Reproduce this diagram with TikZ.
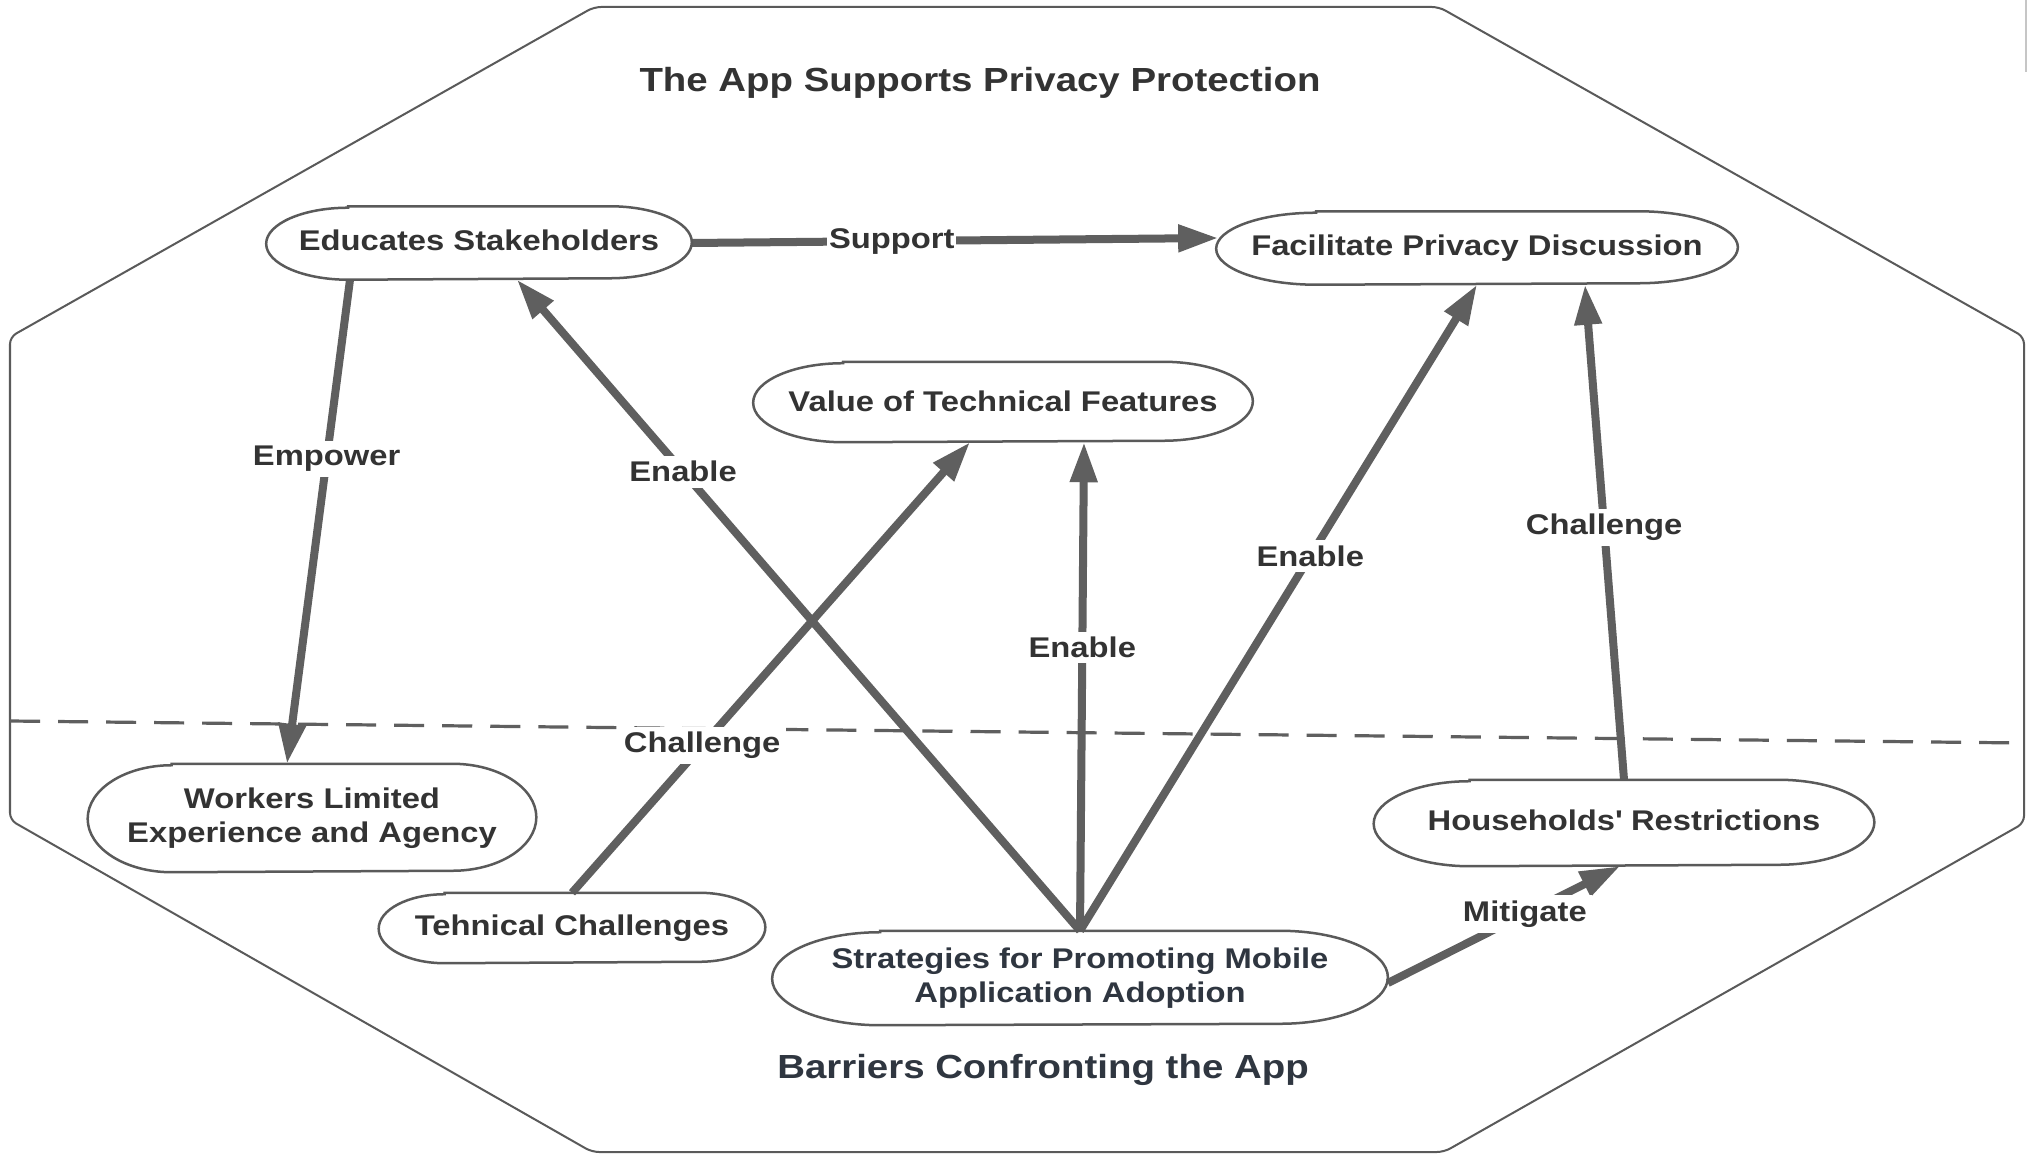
\documentclass[tikz,border=0pt]{standalone}
\usepackage{fontspec}
\setmainfont{Liberation Sans}[FakeStretch=1.15]
\usetikzlibrary{arrows.meta,calc}
\definecolor{edgec}{HTML}{5F5F5F}
\definecolor{outl}{HTML}{5A5A5A}
\definecolor{txt}{HTML}{333333}
\definecolor{txtb}{HTML}{2F3640}
\newcommand\pillborder[3]{%
  \draw[pillline] ($(#1.north west)+(#2,0)$) -- ($(#1.north east)+(-#2,0)$)
    arc[start angle=90,end angle=-90,x radius=#2,y radius=#3]
    -- ($(#1.south west)+(#2,0)$)
    arc[start angle=270,end angle=90,x radius=#2,y radius=#3] -- cycle;}
\begin{document}
\begin{tikzpicture}[x=0.01cm,y=0.01cm,
  pill/.style={rectangle, draw=none, inner sep=0pt, text=txt,
    font=\bfseries\fontsize{8.1}{9.6}\selectfont, align=center},
  pillline/.style={draw=outl, line width=0.025cm},
  conn/.style={draw=edgec, line width=0.08cm, -{Triangle[length=0.4cm,width=0.26cm]}},
  lbl/.style={fill=white, text=txt, font=\bfseries\fontsize{8.1}{9.6}\selectfont, inner sep=1.5pt},
  ttl/.style={font=\bfseries\fontsize{9.5}{11}\selectfont}]
\useasboundingbox (0,0) rectangle (2028,1154);
\fill[white] (0,0) rectangle (2028,1154);

% outer octagon
\draw[draw=outl, line width=0.02cm, rounded corners=2pt]
  (594,1147) -- (1439,1147) -- (2024,817) -- (2024,331) -- (1444,2)
  -- (592,2) -- (10,334) -- (10,817) -- cycle;
% edge artifact
\draw[draw=gray!45, line width=0.015cm] (2026,1154) -- (2026,1082);

% dashed divider
\draw[draw=edgec, line width=0.032cm, dash pattern=on 0.3cm off 0.18cm] (10,433) -- (2024,411);

% titles
\node[ttl, text=txt] (top) at (980,1071) {The App Supports Privacy Protection};
\node[ttl, text=txtb] (bot) at (1043,84) {Barriers Confronting the App};

% nodes
\node[pill, minimum width=4.24cm, minimum height=0.72cm] (E) at (479,911) {\raisebox{0.05cm}{Educates Stakeholders}};
\node[pill, minimum width=5.20cm, minimum height=0.72cm] (F) at (1477,906) {\raisebox{0.01cm}{Facilitate Privacy Discussion}};
\node[pill, minimum width=4.98cm, minimum height=0.79cm] (V) at (1003,752) {\raisebox{0.025cm}{Value of Technical Features}};
\node[pill, minimum width=4.47cm, minimum height=1.07cm] (W) at (312,336) {Workers Limited\\Experience and Agency};
\node[pill, minimum width=3.85cm, minimum height=0.69cm] (T) at (572,226) {Tehnical Challenges};
\node[pill, minimum width=6.14cm, minimum height=0.93cm, text=txtb] (S) at (1080,176) {Strategies for Promoting Mobile\\Application Adoption};
\node[pill, minimum width=4.99cm, minimum height=0.85cm] (H) at (1624,331) {\raisebox{0.05cm}{Households\textquotesingle{} Restrictions}};

% connectors
\draw[conn] ($(E.south)+(-129,0)$) -- node[lbl,pos=0.37]{Empower} ($(W.north)+(-25,0)$);
\draw[conn] (S.north) -- node[lbl,pos=0.705]{Enable} ($(E.south)+(38,0)$);
\draw[conn] (T.north) -- node[lbl,pos=0.327]{Challenge} ($(V.south)+(-33,0)$);
\draw[conn] (S.north) -- node[lbl,pos=0.58]{Enable} ($(V.south)+(81,0)$);
\draw[conn] (S.north) -- node[lbl,pos=0.58]{Enable} (F.south);
\draw[conn] (H.north) -- node[lbl,pos=0.51]{Challenge} ($(F.south)+(108,0)$);
\draw[conn] (E.east) -- node[lbl,pos=0.38,inner sep=0.5pt]{Support} ($(F.west)+(2,10)$);
\draw[conn] ($(S.east)+(0,-5)$) -- node[lbl,pos=0.59]{Mitigate} ($(H.south)+(-4,0)$);

% node outlines
\pillborder{E}{82}{36}
\pillborder{F}{100}{36}
\pillborder{V}{90}{39.5}
\pillborder{W}{84}{53.5}
\pillborder{T}{66}{34.5}
\pillborder{S}{108}{46.5}
\pillborder{H}{96}{42.5}
\end{tikzpicture}
\end{document}
